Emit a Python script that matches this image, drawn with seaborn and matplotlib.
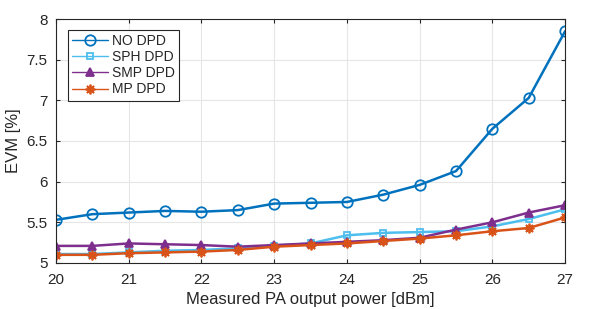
import matplotlib
matplotlib.use("Agg")
import matplotlib.pyplot as plt
import seaborn as sns
import numpy as np

power = [20, 20.5, 21, 21.5, 22, 22.5, 23, 23.5, 24, 24.5, 25, 25.5, 26, 26.5, 27]
no_dpd = [5.53, 5.60, 5.62, 5.64, 5.63, 5.65, 5.73, 5.74, 5.75, 5.84, 5.96, 6.13, 6.65, 7.03, 7.85]
sph_dpd = [5.11, 5.11, 5.13, 5.15, 5.16, 5.18, 5.21, 5.24, 5.34, 5.37, 5.38, 5.39, 5.45, 5.54, 5.66]
smp_dpd = [5.21, 5.21, 5.24, 5.23, 5.22, 5.20, 5.22, 5.24, 5.26, 5.28, 5.31, 5.41, 5.50, 5.62, 5.71]
mp_dpd = [5.10, 5.10, 5.12, 5.13, 5.14, 5.16, 5.20, 5.22, 5.24, 5.27, 5.30, 5.34, 5.39, 5.43, 5.56]
labels = ["NO DPD", "SPH DPD", "SMP DPD", "MP DPD"]
x_ticks = [20, 21, 22, 23, 24, 25, 26, 27]
y_ticks = [5, 5.5, 6, 6.5, 7, 7.5, 8]

sns.set_theme(style="whitegrid")
plt.rcParams['font.family'] = ['Liberation Sans', 'DejaVu Sans']

fig = plt.figure(figsize=(5.98, 3.09), dpi=100)
ax = fig.add_axes([0.0936, 0.149, 0.8514, 0.7895])

colors = ["#0072BD", "#4DBEEE", "#7E2F8E", "#D95319"]
markers = ["o", "s", "^", (8, 2, 0)]
msizes = [7.5, 5, 6, 7]
series = [no_dpd, sph_dpd, smp_dpd, mp_dpd]
for ys, lab, c, m, ms in zip(series, labels, colors, markers, msizes):
    fc = "none" if m in ("o", "s") else c
    sns.lineplot(x=power, y=ys, ax=ax, color=c, marker=m, markersize=ms,
                 markerfacecolor=fc, markeredgecolor=c, markeredgewidth=1.3,
                 linewidth=1.8, label=lab)

ax.set_xlim(20, 27)
ax.set_ylim(5, 8)
ax.set_xticks(x_ticks)
ax.set_xticklabels([str(t) for t in x_ticks])
ax.set_yticks(y_ticks)
ax.set_yticklabels(["5", "5.5", "6", "6.5", "7", "7.5", "8"])
ax.set_xlabel("Measured PA output power [dBm]", fontsize=12, color="#262626", labelpad=4)
ax.set_ylabel("EVM [%]", fontsize=12, color="#262626", labelpad=4)
ax.tick_params(axis="both", labelsize=11, colors="#262626", direction="in",
               length=3, width=0.8, top=True, right=True, bottom=True, left=True)
ax.tick_params(axis="x", pad=7)
ax.tick_params(axis="y", pad=6)
ax.grid(True, color="#e6e6e6", linewidth=0.8)
ax.set_facecolor("white")
for s in ax.spines.values():
    s.set_visible(True)
    s.set_color("#262626")
    s.set_linewidth(0.8)

leg = ax.legend(loc="upper left", bbox_to_anchor=(0.0236, 0.955), fontsize=10,
                frameon=True, fancybox=False, edgecolor="#262626", framealpha=1,
                borderpad=0.3, labelspacing=0.15, handlelength=2.6, handletextpad=0.3,
                borderaxespad=0)
leg.get_frame().set_linewidth(0.8)
for line in leg.get_lines():
    line.set_linewidth(1.0)

fig.savefig("out.png", dpi=100)
